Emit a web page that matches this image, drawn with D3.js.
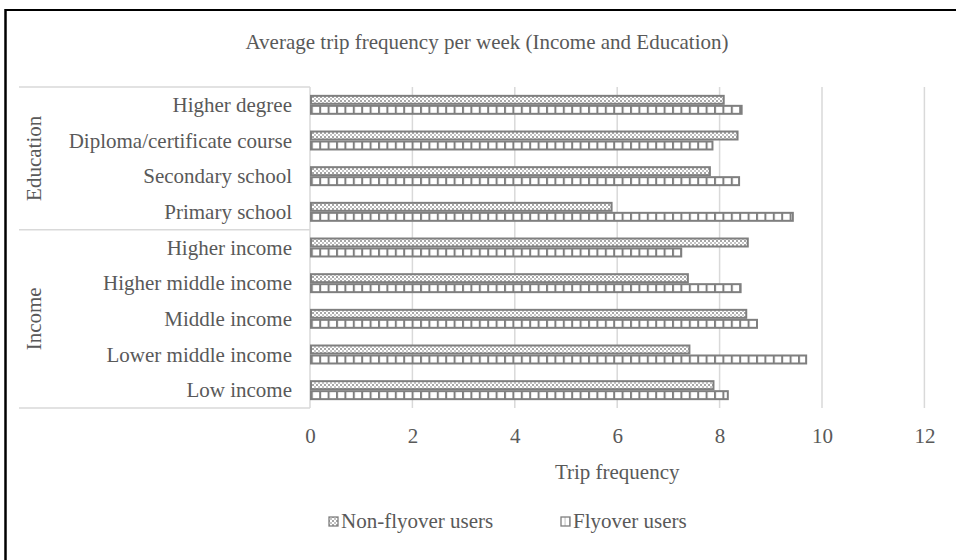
<!DOCTYPE html>
<html>
<head>
<meta charset="utf-8">
<script src="https://cdn.jsdelivr.net/npm/d3@7"></script>
<style>
  html, body { margin: 0; padding: 0; background: #fff; }
  svg { display: block; }
  text { font-family: "Liberation Serif", "Times New Roman", serif; fill: #595959; }
</style>
</head>
<body>
<svg id="chart" width="956" height="560"></svg>
<script>
// Categories, top to bottom
const categories = [
  "Higher degree", "Diploma/certificate course", "Secondary school", "Primary school",
  "Higher income", "Higher middle income", "Middle income", "Lower middle income", "Low income"
];
// Outer grouping of the categories
const groups = [
  { name: "Education", first: "Higher degree", last: "Primary school" },
  { name: "Income", first: "Higher income", last: "Low income" }
];
const seriesNames = ["Non-flyover users", "Flyover users"];
const nonFlyover = [8.10, 8.37, 7.83, 5.91, 8.57, 7.40, 8.54, 7.43, 7.90];
const flyover    = [8.45, 7.88, 8.40, 9.45, 7.27, 8.43, 8.75, 9.71, 8.18];
const xTicks = [0, 2, 4, 6, 8, 10, 12];

const svg = d3.select("#chart");
const grey = "#595959";
const barStroke = "#7f7f7f";
const gridColor = "#d9d9d9";
const fontSize = "21px";

// Fill patterns
const defs = svg.append("defs");
const dots = defs.append("pattern").attr("id", "pat-dots")
  .attr("patternUnits", "userSpaceOnUse").attr("width", 4).attr("height", 4);
dots.append("rect").attr("width", 4).attr("height", 4).attr("fill", "#fff");
dots.append("rect").attr("x", 0).attr("y", 0).attr("width", 2).attr("height", 2).attr("fill", "#a6a6a6");
dots.append("rect").attr("x", 2).attr("y", 2).attr("width", 2).attr("height", 2).attr("fill", "#c4c4c4");
const vlines = defs.append("pattern").attr("id", "pat-vlines")
  .attr("patternUnits", "userSpaceOnUse").attr("width", 8.4).attr("height", 10);
vlines.append("rect").attr("width", 8.4).attr("height", 10).attr("fill", "#fff");
vlines.append("rect").attr("x", 0).attr("width", 2).attr("height", 10).attr("fill", barStroke);
const legendVlines = defs.append("pattern").attr("id", "pat-vlines-small")
  .attr("patternUnits", "objectBoundingBox").attr("width", 0.5).attr("height", 1);
legendVlines.append("rect").attr("width", 5).attr("height", 10).attr("fill", "#fff");
legendVlines.append("rect").attr("x", 4).attr("width", 1.5).attr("height", 10).attr("fill", barStroke);
const fills = ["url(#pat-dots)", "url(#pat-vlines)"];
const legendFills = ["url(#pat-dots)", "url(#pat-vlines-small)"];

// Outer frame (top and left edges)
svg.append("line").attr("x1", 5).attr("x2", 956).attr("y1", 10).attr("y2", 10)
  .attr("stroke", "#000").attr("stroke-width", 2);
svg.append("line").attr("x1", 5.5).attr("x2", 5.5).attr("y1", 9).attr("y2", 560)
  .attr("stroke", "#000").attr("stroke-width", 2.5);

// Title
svg.append("text").attr("x", 487).attr("y", 49).attr("text-anchor", "middle")
  .style("font-size", fontSize).text("Average trip frequency per week (Income and Education)");

// Scales
const x = d3.scaleLinear().domain([0, 12]).range([310, 924.4]);
const y = d3.scaleBand().domain(categories).range([87, 408]).paddingInner(0.44).paddingOuter(0.22);
const ySeries = d3.scaleBand().domain(seriesNames).range([0, y.bandwidth()]);
const step = y.step();

// Vertical gridlines
svg.append("g").selectAll("line").data(xTicks.filter(d => d > 0)).join("line")
  .attr("x1", d => x(d)).attr("x2", d => x(d))
  .attr("y1", 87).attr("y2", 408)
  .attr("stroke", gridColor).attr("stroke-width", 1.5);

// Category axis: vertical line and group separators
svg.append("line").attr("x1", x(0)).attr("x2", x(0)).attr("y1", 87).attr("y2", 408)
  .attr("stroke", gridColor).attr("stroke-width", 1.5);
const boundaries = [87, 87 + 4 * step, 408];
svg.append("g").selectAll("line").data(boundaries).join("line")
  .attr("x1", 19).attr("x2", x(0)).attr("y1", d => d).attr("y2", d => d)
  .attr("stroke", gridColor).attr("stroke-width", 1.5);

// Group labels (rotated)
groups.forEach(g => {
  const i0 = categories.indexOf(g.first), i1 = categories.indexOf(g.last);
  const cy = 87 + ((i0 + i1 + 1) / 2) * step;
  svg.append("text")
    .attr("transform", `translate(41,${cy}) rotate(-90)`)
    .attr("text-anchor", "middle").style("font-size", fontSize).text(g.name);
});

// Category labels
svg.append("g").selectAll("text").data(categories).join("text")
  .attr("x", 292).attr("y", d => y(d) + y.bandwidth() / 2 + 7)
  .attr("text-anchor", "end").style("font-size", fontSize).text(d => d);

// Bars
const rows = categories.map((c, i) => ({ c, vals: [nonFlyover[i], flyover[i]] }));
const barG = svg.append("g");
rows.forEach(r => {
  r.vals.forEach((v, k) => {
    barG.append("rect")
      .attr("x", x(0) + 1).attr("y", y(r.c) + ySeries(seriesNames[k]) + 1)
      .attr("width", x(v) - x(0) - 2).attr("height", ySeries.bandwidth() - 2)
      .attr("fill", fills[k]).attr("stroke", barStroke).attr("stroke-width", 2);
  });
});

// Value axis
const xAxis = d3.axisBottom(x).tickValues(xTicks).tickSize(0).tickPadding(0).tickFormat(d3.format("d"));
const axG = svg.append("g").attr("transform", "translate(0,428)").call(xAxis);
axG.select(".domain").remove();
axG.selectAll("text").style("font-size", fontSize).style("font-family", "Liberation Serif, serif").attr("fill", grey);

svg.append("text").attr("x", x(6)).attr("y", 479).attr("text-anchor", "middle")
  .style("font-size", fontSize).text("Trip frequency");

// Legend
const legend = svg.append("g");
const legendItems = [
  { name: seriesNames[0], fill: legendFills[0], x: 329 },
  { name: seriesNames[1], fill: legendFills[1], x: 561 }
];
legendItems.forEach(it => {
  legend.append("rect").attr("x", it.x).attr("y", 517).attr("width", 9).attr("height", 9)
    .attr("fill", it.fill).attr("stroke", barStroke).attr("stroke-width", 1.3);
  legend.append("text").attr("x", it.x + 12).attr("y", 528)
    .style("font-size", fontSize).text(it.name);
});
</script>
</body>
</html>
